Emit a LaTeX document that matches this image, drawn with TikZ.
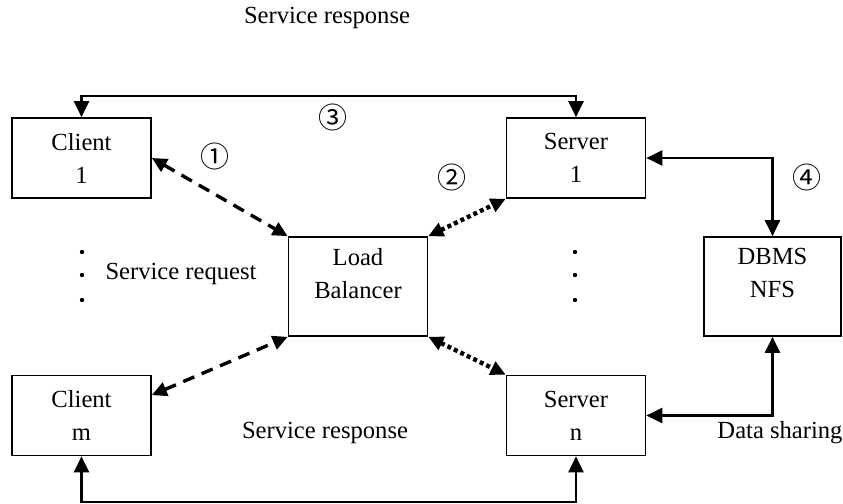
\documentclass[tikz,border=0pt]{standalone}
\usepackage{fontspec}
\setmainfont{Liberation Serif}
\newfontfamily\circfont{Noto Sans CJK JP}
\usetikzlibrary{arrows.meta,calc}

\begin{document}
\begin{tikzpicture}[x=0.5pt,y=-0.5pt,
	every node/.style={font=\fontsize{12.3}{16.5}\selectfont},
	pcbox/.style={draw,line width=0.85pt,minimum width=69.5pt,minimum height=40pt,align=center,inner sep=0pt},
	tallbox/.style={pcbox,minimum height=49.5pt},
	link/.style={line width=1.1pt,>={Triangle[length=8pt,width=7.5pt]},<->},
	reqlink/.style={line width=1.7pt,dash pattern=on 6pt off 4pt,>={Triangle[length=7.5pt,width=7pt]},<->},
	distlink/.style={line width=2.2pt,dash pattern=on 2pt off 1.6pt,>={Triangle[length=7.5pt,width=7pt]},<->},
	circnum/.style={font=\circfont\fontsize{14.5}{14.5}\selectfont}]
	\useasboundingbox (0,0) rectangle (843,504);

	% boxes
	\node[pcbox] (c1) at (81.5,158) {Client\\1};
	\node[pcbox] (cm) at (81.5,415.5) {Client\\m};
	\node[pcbox] (s1) at (576,158) {Server\\1};
	\node[pcbox] (sn) at (576,415.5) {Server\\n};
	\node[tallbox] (lb) at (358,286.5) {Load\\Balancer\\[-8pt]\strut};
	\node[tallbox,minimum width=68.5pt] (db) at (772.5,286.5) {DBMS\\NFS\\[-8pt]\strut};

	\coordinate (topbar) at (0,96);
	\coordinate (botbar) at (0,502);
	\coordinate (cmport) at ($(cm.north east)!0.25!(cm.south east)$);

	% response loops
	\draw[link] (c1.north) -- (c1.north |- topbar) -- (s1.north |- topbar) -- (s1.north);
	\draw[link] (cm.south) -- (cm.south |- botbar) -- (sn.south |- botbar) -- (sn.south);

	% data sharing
	\draw[link] (s1.east) -| (db.north);
	\draw[link] (sn.east) -| (db.south);

	% requests and dispatch
	\draw[reqlink] (c1.east) -- (lb.north west);
	\draw[reqlink] (cmport) -- (lb.south west);
	\draw[distlink] (lb.north east) -- (s1.south west);
	\draw[distlink] (lb.south east) -- (sn.north west);

	% dots
	\foreach \y in {252,275,300} {
		\fill (82,\y) circle (1.1pt);
		\fill (575,\y) circle (1.1pt);
	}

	% labels
	\node (resptop) at (327,18) {Service response};
	\node (respbot) at (325,433) {Service response};
	\node (req) at (181,274) {Service request};
	\node (share) at (780,433) {Data sharing};

	\node[circnum] (n1) at (215,156) {①};
	\node[circnum] (n2) at (452,177) {②};
	\node[circnum] (n3) at (333,117) {③};
	\node[circnum] (n4) at (807,177) {④};
\end{tikzpicture}
\end{document}
